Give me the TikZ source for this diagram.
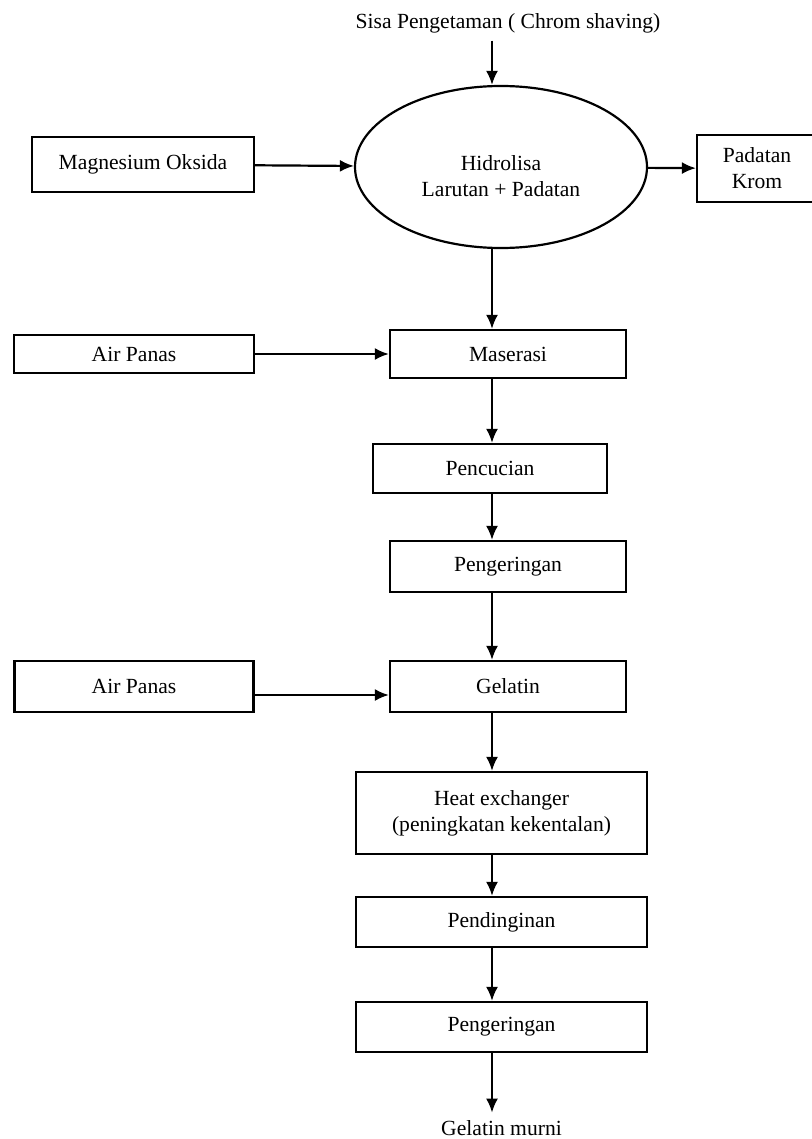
\documentclass[tikz,border=0pt]{standalone}
\usepackage{fontspec}
\setmainfont{Liberation Serif}
\usepackage{tikz}
\usetikzlibrary{ % tikz packages
    positioning,shapes.geometric,
    arrows.meta
}
\tikzset{every node/.style={
    font=\fontsize{10.8}{13}\selectfont
}}
\tikzset{proc/.style={
    draw, line width=1.1pt,
    inner sep=0pt, align=center
}}
\tikzset{>={Latex[length=7pt,width=6pt]}}

\begin{document}
\begin{tikzpicture}[x=0.5pt,y=-0.5pt,on grid,line width=1.1pt]
        \useasboundingbox (0,0) rectangle (812,1139);
        \coordinate (spine) at (492,0);

        \node (src) at (508,23) {Sisa Pengetaman ( Chrom shaving)};
        \node[proc, ellipse, minimum width=146pt, minimum height=81pt,
            label={[align=center,yshift=-4.5pt]center:Hidrolisa\\Larutan + Padatan}] (hid) at (501,167) {};
        \node[proc, minimum width=111pt, minimum height=27.5pt] (mgo) at (143,164.5) {Magnesium Oksida};
        \node[proc, minimum width=60pt, minimum height=33.5pt] (pad) at (757,168.5) {Padatan\\Krom};

        \node[proc, minimum width=118pt, minimum height=24pt] (mas) at (508,354) {Maserasi};
        \node[proc, minimum width=120pt, minimum height=19pt] (air1) [left=187pt of mas] {Air Panas};
        \node[proc, minimum width=117pt, minimum height=24.5pt] (cuci) at (490,468.5) {Pencucian};
        \node[proc, minimum width=118pt, minimum height=25.5pt] (kering) at (508,566.5) {Pengeringan};
        \node[proc, minimum width=118pt, minimum height=25.5pt] (gel) at (508,686.5) {Gelatin};
        \node[proc, minimum width=119.5pt, minimum height=25.5pt] (air2) [left=187pt of gel] {Air Panas};

        \node[proc, minimum width=145.5pt, minimum height=41pt] (hx) at (501.5,813) {Heat exchanger\\(peningkatan kekentalan)};
        \node[proc, minimum width=145.5pt, minimum height=25pt] (dingin) [below=54.5pt of hx] {Pendinginan};
        \node[proc, minimum width=145.5pt, minimum height=25pt] (kering2) [below=52.5pt of dingin] {Pengeringan};
        \node (murni) [below=50.5pt of kering2] {Gelatin murni};

        \path[->]
            (src.south -| spine)
                edge (hid.north -| spine)
            (mgo)
                edge (hid)
            (hid)
                edge (pad)
            (hid.south -| spine)
                edge (mas.north -| spine)
            (air1.east)
                edge (air1.east -| mas.west)
            (mas.south -| spine)
                edge (cuci.north -| spine)
            (cuci.south -| spine)
                edge (kering.north -| spine)
            (kering.south -| spine)
                edge (gel.north -| spine)
            ([yshift=-4.25pt]air2.east)
                edge ([yshift=-4.25pt]air2.east -| gel.west)
            (gel.south -| spine)
                edge (hx.north -| spine)
            (hx.south -| spine)
                edge (dingin.north -| spine)
            (dingin.south -| spine)
                edge (kering2.north -| spine)
            (kering2.south -| spine)
                edge (murni.north -| spine);
    \end{tikzpicture}
\end{document}
